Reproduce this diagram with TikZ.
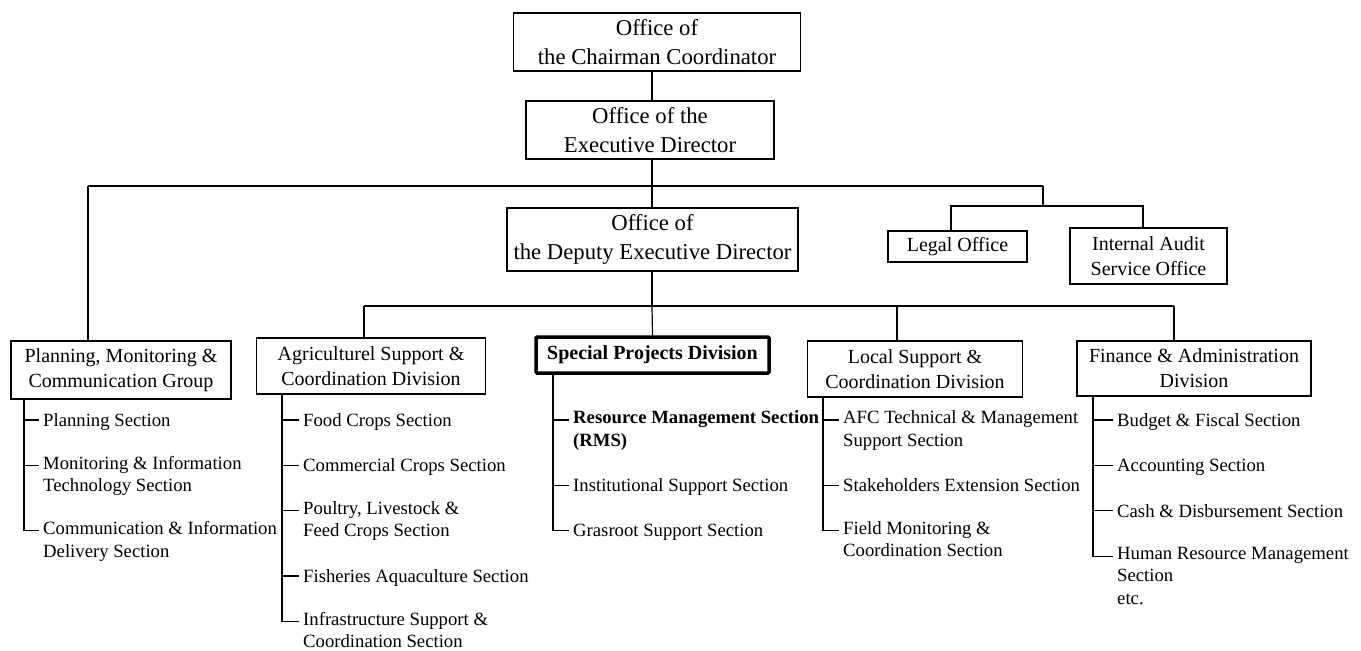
\documentclass[tikz,border=0pt]{standalone}
\usepackage{fontspec}
\setmainfont{Liberation Serif}
\usetikzlibrary{positioning}
\tikzset{
  topbox/.style={
    draw,
    line width=1.2pt,
    align=center,
    fill=white,
    inner sep=2pt,
    minimum height=58pt,
    font=\fontsize{22.7}{29}\selectfont
  },
  unitbox/.style={
    draw,
    line width=1.2pt,
    align=center,
    fill=white,
    inner sep=2pt,
    minimum height=56pt,
    font=\fontsize{20}{25}\selectfont
  },
  keybox/.style={
    unitbox,
    line width=3.5pt,
    rounded corners=1pt,
    font=\fontsize{20}{25}\selectfont\bfseries
  },
  sectitem/.style={
    align=left,
    inner xsep=4pt,
    inner ysep=0pt,
    font=\fontsize{18.7}{22.5}\selectfont,
    execute at begin node=\strut,
    execute at end node=\strut
  },
  link/.style={
    line width=1.2pt
  }
}

\begin{document}
\begin{tikzpicture}[x=1pt, y=1pt, node distance=22.5pt]
    \useasboundingbox (0,0) rectangle (1361,-651);

    % top of the chart
    \node[topbox, minimum width=287pt] (chair) at (657,-42) {Office of\\the Chairman Coordinator};
    \node[topbox, minimum width=248pt] (exec) at (650,-130) {Office of the\\Executive Director};
    \node[topbox, minimum width=291pt, minimum height=63pt] (deputy) at (652.5,-239.5) {Office of\\the Deputy Executive Director};
    \node[unitbox, minimum width=139pt, minimum height=31pt] (legal) at (957.5,-246.5) {Legal Office};
    \node[unitbox, minimum width=157pt] (audit) at (1148.5,-256) {Internal Audit\\Service Office};

    % groups and divisions
    \node[unitbox, minimum width=220pt, minimum height=58pt] (pmc) at (121,-370) {Planning, Monitoring \&\\Communication Group};
    \node[unitbox, minimum width=229pt] (agri) at (371,-366) {Agriculturel Support \&\\Coordination Division};
    \node[keybox, minimum width=233pt, minimum height=36pt] (spd) at (652.5,-355) {Special Projects Division};
    \node[unitbox, minimum width=215pt] (local) at (915,-369) {Local Support \&\\Coordination Division};
    \node[unitbox, minimum width=234pt, minimum height=55pt] (fin) at (1194,-368.5) {Finance \& Administration\\Division};

    % bus lines
    \coordinate (busL) at (88,-186);
    \coordinate (busR) at (1043,-186);
    \coordinate (staffL) at (951,-206);
    \coordinate (staffR) at (1143,-206);
    \coordinate (divA) at (364,-306);
    \coordinate (divS) at (652,-306);
    \coordinate (divL) at (897,-306);
    \coordinate (divF) at (1174,-306);

    \draw[link] (chair.south -| divS) -- (exec.north -| divS);
    \draw[link] (exec.south -| divS) -- (deputy.north -| divS);
    \draw[link] (busL) -- (busR);
    \draw[link] (busL) -- (busL |- pmc.north);
    \draw[link] (busR) |- (staffL) -- (staffL |- legal.north);
    \draw[link] (busR) |- (staffR) -- (staffR |- audit.north);
    \draw[link] (deputy.south -| divS) -- (divS);
    \draw[link] (divA) -- (divF);
    \draw[link] (divA) -- (divA |- agri.north);
    \draw[link] (divS) -- (spd.north);
    \draw[link] (divL) -- (divL |- local.north);
    \draw[link] (divF) -- (divF |- fin.north);

    % sections under each unit
    \node[sectitem, anchor=north west] (pl1) at (39,-410.5) {Planning Section};
    \node[sectitem, below=of pl1.south west, anchor=north west] (pl2) {Monitoring \& Information\\Technology Section};
    \node[sectitem, below=of pl2.south west, anchor=north west] (pl3) {Communication \& Information\\Delivery Section};

    \node[sectitem, anchor=north west] (ag1) at (299,-410.5) {Food Crops Section};
    \node[sectitem, below=of ag1.south west, anchor=north west] (ag2) {Commercial Crops Section};
    \node[sectitem, below=of ag2.south west, anchor=north west] (ag3) {Poultry, Livestock \&\\Feed Crops Section};
    \node[sectitem, below=of ag3.south west, anchor=north west] (ag4) {Fisheries Aquaculture Section};
    \node[sectitem, below=of ag4.south west, anchor=north west] (ag5) {Infrastructure Support \&\\Coordination Section};

    \node[sectitem, anchor=north west] (sp1) at (569,-410.5) {\textbf{Resource Management Section}\\\textbf{(RMS)}};
    \node[sectitem, below=of sp1.south west, anchor=north west] (sp2) {Institutional Support Section};
    \node[sectitem, below=of sp2.south west, anchor=north west] (sp3) {Grasroot Support Section};

    \node[sectitem, anchor=north west] (lo1) at (839,-410.5) {AFC Technical \& Management\\Support Section};
    \node[sectitem, below=of lo1.south west, anchor=north west] (lo2) {Stakeholders Extension Section};
    \node[sectitem, below=of lo2.south west, anchor=north west] (lo3) {Field Monitoring \&\\Coordination Section};

    \node[sectitem, anchor=north west] (fi1) at (1113,-410.5) {Budget \& Fiscal Section};
    \node[sectitem, below=of fi1.south west, anchor=north west] (fi2) {Accounting Section};
    \node[sectitem, below=of fi2.south west, anchor=north west] (fi3) {Cash \& Disbursement Section};
    \node[sectitem, below=of fi3.south west, anchor=north west] (fi4) {Human Resource Management\\Section\\etc.};

    % trunks and ticks
    \coordinate (pmcT) at (24,-399);
    \coordinate (agriT) at (282,-394);
    \coordinate (spdT) at (553,-373);
    \coordinate (localT) at (823,-397);
    \coordinate (finT) at (1093,-396);

    \draw[link] (pmcT) |- ([yshift=-9.5pt]pl1.north west);
    \draw[link] (pmcT) |- ([yshift=-9.5pt]pl2.north west);
    \draw[link] (pmcT) |- ([yshift=-9.5pt]pl3.north west);

    \draw[link] (agriT) |- ([yshift=-9.5pt]ag1.north west);
    \draw[link] (agriT) |- ([yshift=-9.5pt]ag2.north west);
    \draw[link] (agriT) |- ([yshift=-9.5pt]ag3.north west);
    \draw[link] (agriT) |- ([yshift=-9.5pt]ag4.north west);
    \draw[link] (agriT) |- ([yshift=-9.5pt]ag5.north west);

    \draw[link] (spdT) |- ([yshift=-9.5pt]sp1.north west);
    \draw[link] (spdT) |- ([yshift=-9.5pt]sp2.north west);
    \draw[link] (spdT) |- ([yshift=-9.5pt]sp3.north west);

    \draw[link] (localT) |- ([yshift=-9.5pt]lo1.north west);
    \draw[link] (localT) |- ([yshift=-9.5pt]lo2.north west);
    \draw[link] (localT) |- ([yshift=-9.5pt]lo3.north west);

    \draw[link] (finT) |- ([yshift=-9.5pt]fi1.north west);
    \draw[link] (finT) |- ([yshift=-9.5pt]fi2.north west);
    \draw[link] (finT) |- ([yshift=-9.5pt]fi3.north west);
    \draw[link] (finT) |- ([yshift=-9.5pt]fi4.north west);
\end{tikzpicture}
\end{document}
